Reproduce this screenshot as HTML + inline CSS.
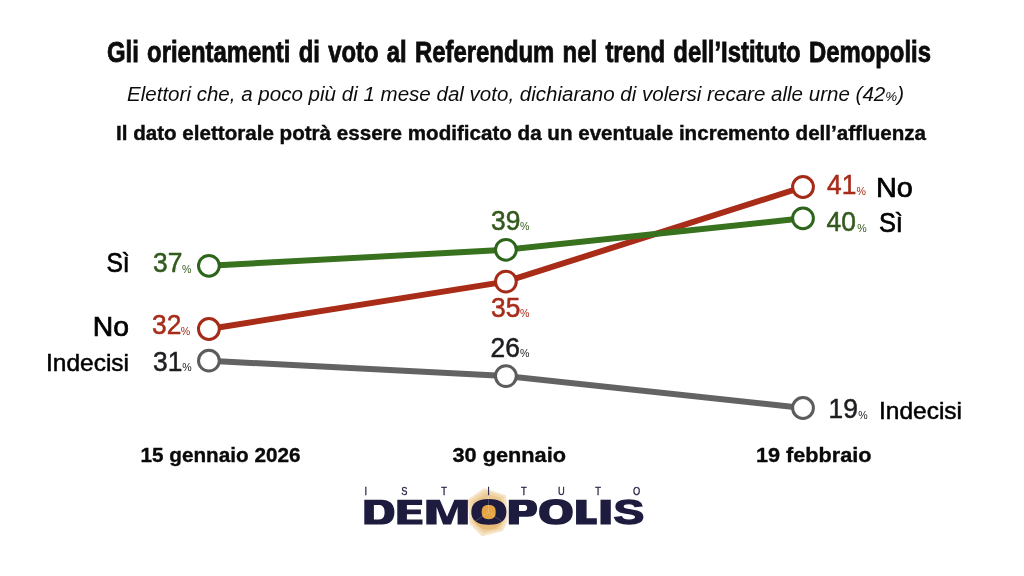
<!DOCTYPE html>
<html>
<head>
<meta charset="utf-8">
<style>
html,body{margin:0;padding:0;background:#fff;}
body{width:1024px;height:576px;overflow:hidden;font-family:"Liberation Sans",sans-serif;}
svg{display:block;font-family:"Liberation Sans",sans-serif;will-change:transform;}
.t1{font-weight:bold;font-size:29px;fill:#0c0c0c;stroke:#0c0c0c;stroke-width:0.8px;word-spacing:2px;}
.t2{font-style:italic;font-size:20px;fill:#0c0c0c;}
.t3{font-weight:bold;font-size:19.7px;fill:#0c0c0c;stroke:#0c0c0c;stroke-width:0.4px;}
.lab{font-size:27.5px;fill:#000;stroke:#000;stroke-width:0.7px;}
.lab2{font-size:23.6px;stroke-width:0.5px;}
.num{font-size:28.2px;stroke-width:0.55px;}
.pc{font-size:10.6px;stroke-width:0;}
.date{font-weight:bold;font-size:20.8px;fill:#0a0a0a;stroke:#0a0a0a;stroke-width:0.35px;}
.g{fill:#335a1e;stroke:#335a1e;}
.r{fill:#a72c1a;stroke:#a72c1a;}
.k{fill:#1e1e22;stroke:#1e1e22;}
</style>
</head>
<body>
<svg width="1024" height="576" viewBox="0 0 1024 576">
<rect width="1024" height="576" fill="#fff"/>
<!-- headings -->
<text class="t1" x="107" y="61.5" textLength="824" lengthAdjust="spacingAndGlyphs">Gli orientamenti di voto al Referendum nel trend dell’Istituto Demopolis</text>
<text class="t2" x="127" y="101" textLength="777" lengthAdjust="spacingAndGlyphs">Elettori che, a poco più di 1 mese dal voto, dichiarano di volersi recare alle urne (42<tspan font-size="13">%</tspan>)</text>
<text class="t3" x="116" y="139.5" textLength="810" lengthAdjust="spacingAndGlyphs">Il dato elettorale potrà essere modificato da un eventuale incremento dell’affluenza</text>

<!-- lines -->
<g fill="none" stroke-width="6" stroke-linecap="butt" stroke-linejoin="round">
<polyline points="208.9,360.7 505.9,376.100 803,408" stroke="#636363"/>
<polyline points="208.9,329 505.9,281.6 803,187" stroke="#a92c18"/>
<polyline points="208.9,265.8 505.9,249.8 803,218.3" stroke="#38721f"/>
</g>
<g fill="#fff" stroke-width="3">
<circle cx="208.9" cy="360.7" r="10.4" stroke="#5c5c5c"/>
<circle cx="505.9" cy="376.1" r="10.4" stroke="#5c5c5c"/>
<circle cx="803" cy="408" r="10.4" stroke="#5c5c5c"/>
<circle cx="208.9" cy="265.8" r="10.4" stroke="#2d651b"/>
<circle cx="505.9" cy="249.8" r="10.4" stroke="#2d651b"/>
<circle cx="803" cy="218.3" r="10.4" stroke="#2d651b"/>
<circle cx="208.9" cy="329" r="10.4" stroke="#a52a17"/>
<circle cx="505.9" cy="281.6" r="10.4" stroke="#a52a17"/>
<circle cx="803" cy="187" r="10.4" stroke="#a52a17"/>
</g>

<!-- left labels -->
<text class="lab" x="129.6" y="272" text-anchor="end" textLength="23.2" lengthAdjust="spacingAndGlyphs">Sì</text>
<text class="lab" x="128.9" y="335.5" text-anchor="end" textLength="36.2" lengthAdjust="spacingAndGlyphs">No</text>
<text class="lab lab2" x="129" y="370.7" text-anchor="end" textLength="83" lengthAdjust="spacingAndGlyphs">Indecisi</text>

<!-- left numbers -->
<text class="num g" x="153.0" y="272.4" textLength="29.3" lengthAdjust="spacingAndGlyphs">37</text><text class="pc g" x="181.9" y="272.8">%</text>
<text class="num r" x="152.0" y="334.3" textLength="29.3" lengthAdjust="spacingAndGlyphs">32</text><text class="pc r" x="180.8" y="334.7">%</text>
<text class="num k" x="153.0" y="371.0" textLength="29.3" lengthAdjust="spacingAndGlyphs">31</text><text class="pc k" x="182.2" y="371.4">%</text>

<!-- middle numbers -->
<text class="num g" x="491.0" y="229.5" textLength="29.3" lengthAdjust="spacingAndGlyphs">39</text><text class="pc g" x="520.0" y="229.9">%</text>
<text class="num r" x="491.0" y="316.5" textLength="29.3" lengthAdjust="spacingAndGlyphs">35</text><text class="pc r" x="520.0" y="316.9">%</text>
<text class="num k" x="490.5" y="356.5" textLength="29.3" lengthAdjust="spacingAndGlyphs">26</text><text class="pc k" x="520.0" y="356.9">%</text>

<!-- right numbers -->
<text class="num r" x="827.0" y="194.4" textLength="29.3" lengthAdjust="spacingAndGlyphs">41</text><text class="pc r" x="856.6" y="194.8">%</text>
<text class="num g" x="826.5" y="231.2" textLength="29.3" lengthAdjust="spacingAndGlyphs">40</text><text class="pc g" x="857.2" y="231.6">%</text>
<text class="num k" x="828.5" y="418.4" textLength="29.3" lengthAdjust="spacingAndGlyphs">19</text><text class="pc k" x="858.2" y="418.8">%</text>

<!-- right labels -->
<text class="lab" x="876" y="197.1" textLength="36.8" lengthAdjust="spacingAndGlyphs">No</text>
<text class="lab" x="878.9" y="232.1" textLength="24" lengthAdjust="spacingAndGlyphs">Sì</text>
<text class="lab lab2" x="879" y="419.4" textLength="83" lengthAdjust="spacingAndGlyphs">Indecisi</text>

<!-- dates -->
<text class="date" x="140.5" y="461.8" textLength="160" lengthAdjust="spacingAndGlyphs">15 gennaio 2026</text>
<text class="date" x="452.500" y="462" textLength="113.500" lengthAdjust="spacingAndGlyphs">30 gennaio</text>
<text class="date" x="756" y="462" textLength="115.500" lengthAdjust="spacingAndGlyphs">19 febbraio</text>

<!-- logo -->
<g id="logo">
<!-- glow -->
<polygon points="484,488.2 505.9,495.3 508.2,513 507.5,521.6 502.8,531 482,536.3 469.500,523.7 467.800,499.500" fill="#f6e4c8"/>
<polygon points="485,490.5 503.5,496.5 506,513 504.5,522 500.500,529.500 483,533.5 471.5,522.5 470,500.5" fill="#f1d6aa"/>
<polygon points="486,493.5 501,498 504,512 502,523 497.500,529 484,531.5 473.5,521.5 472.5,502" fill="#ecc992"/>
<ellipse cx="488.5" cy="516" rx="15.5" ry="13.5" fill="#e7bc78"/>
<!-- ISTITUTO -->
<g font-size="10" fill="#211f45" stroke="#211f45" stroke-width="0.3" text-anchor="middle">
<text transform="translate(365.8,494.5) scale(0.93,1)">I</text>
<text transform="translate(404.3,494.5) scale(0.93,1)">S</text>
<text transform="translate(444.2,494.5) scale(0.93,1)">T</text>
<text transform="translate(488.5,494.5) scale(0.93,1)">I</text>
<text transform="translate(523.9,494.5) scale(0.93,1)">T</text>
<text transform="translate(561.4,494.5) scale(0.93,1)">U</text>
<text transform="translate(598.2,494.5) scale(0.93,1)">T</text>
<text transform="translate(636.6,494.5) scale(0.93,1)">O</text>
</g>
<g fill="#1d1c3f" fill-rule="evenodd">
<!-- D -->
<path d="M364.3,499.7 H381.500 C390.3,499.7 394.4,504.800 394.4,512.150 C394.4,519.500 390.3,524.5 381.500,524.5 H364.3 Z M373.9,504.9 V519.4 H379 C383,519.4 384.6,516.4 384.6,512.150 C384.6,507.9 383,504.9 379,504.9 Z"/>
<!-- E -->
<path d="M397.3,499.7 H422.100 V504.9 H406.9 V509.6 H420.900 V514.3 H406.9 V519.4 H422.5 V524.5 H397.3 Z"/>
<!-- M -->
<path d="M426.3,499.7 H439.8 L447.100,516.7 L454.4,499.7 H467.850 V524.5 H457.600 V506.9 L451.050,524.5 H443.150 L436.600,506.9 V524.5 H426.3 Z"/>
<!-- O (first) -->
<path d="M488.850,499.100 C501.5,499.100 506.4,504.300 506.4,511.950 C506.4,519.600 501.5,524.800 488.850,524.800 C476.2,524.800 471.3,519.600 471.3,511.950 C471.3,504.300 476.2,499.100 488.850,499.100 Z"/>
<!-- P -->
<path d="M508.800,499.700 H527.500 C534.300,499.700 537.100,503.200 537.100,508.200 C537.100,513.200 534.300,516.700 527.500,516.700 H519 V524.5 H508.800 Z M519,505 V510.900 H524.300 C526.400,510.900 527.100,509.700 527.100,507.950 C527.100,506.200 526.400,505 524.300,505 Z"/>
<!-- O (second) -->
<path d="M555.900,499.100 C568,499.100 572.750,504.300 572.750,511.950 C572.750,519.600 568,524.800 555.900,524.800 C543.800,524.800 539.100,519.600 539.100,511.950 C539.100,504.300 543.800,499.100 555.900,499.100 Z M555.900,505 C550.800,505 549.300,507.400 549.300,512.100 C549.300,516.800 550.800,519.200 555.900,519.200 C561,519.200 562.5,516.800 562.5,512.100 C562.5,507.400 561,505 555.900,505 Z"/>
<!-- L -->
<path d="M576.050,499.700 H586.600 V518.200 H596.850 V524.5 H576.050 Z"/>
<!-- I -->
<path d="M600.5,499.700 H610.800 V524.5 H600.5 Z"/>
</g>
<!-- S -->
<text x="0" y="0" font-weight="bold" font-size="34.4" fill="#1d1c3f" stroke="#1d1c3f" stroke-width="1.4" transform="translate(613.600,523.800) scale(1.34,1)">S</text>
<!-- orange counter -->
<path d="M488.700,505 C494,505 495.700,507.400 495.700,512.100 C495.700,516.800 494,519.200 488.700,519.200 C483.400,519.200 481.700,516.800 481.700,512.100 C481.700,507.400 483.400,505 488.700,505 Z" fill="#e6a544"/>
<g stroke="#fff" stroke-width="0.5" opacity="0.38" fill="none">
<path d="M488.5,495 V512.3 L474.700,521.600 M488.5,512.3 L502.200,521.600"/>
</g>
</g>
</svg>
</body>
</html>
